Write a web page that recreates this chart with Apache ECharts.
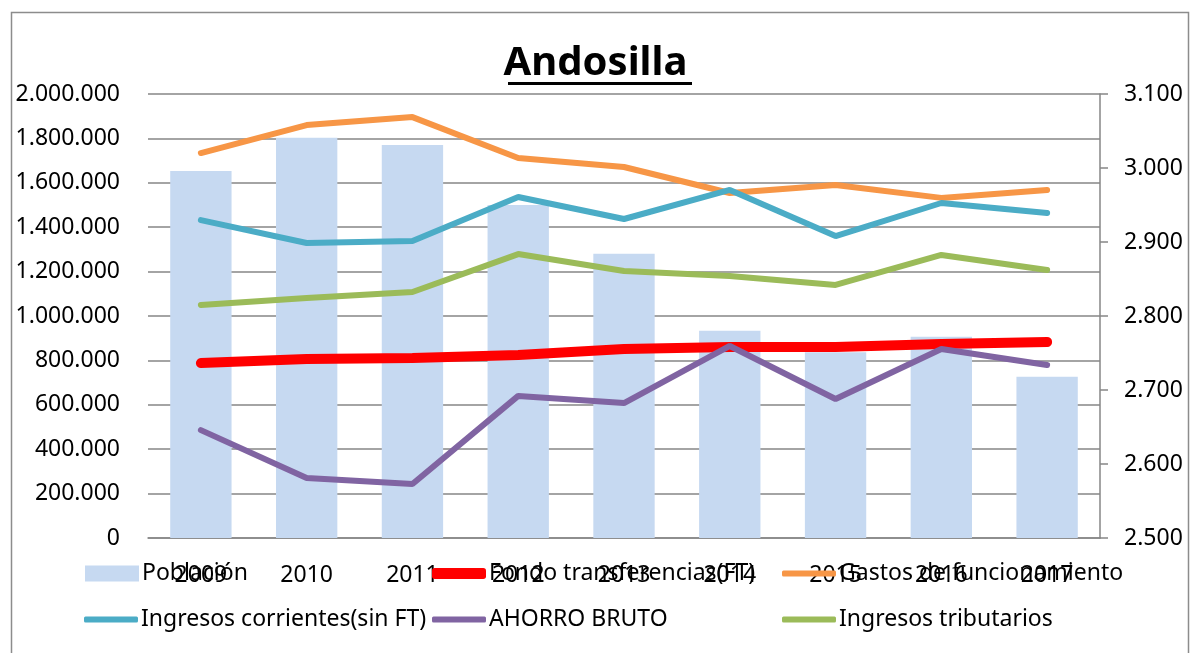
<!DOCTYPE html>
<html>
<head>
<meta charset="utf-8">
<style>
  html, body { margin: 0; padding: 0; background: #fff; }
  #chart { width: 1191px; height: 653px; }
</style>
<script src="https://cdn.jsdelivr.net/npm/echarts@6/dist/echarts.min.js"></script>
</head>
<body>
<div id="chart"></div>
<script>
const years = ['2009', '2010', '2011', '2012', '2013', '2014', '2015', '2016', '2017']
const poblacion = [2996, 3041, 3031, 2950, 2884, 2780, 2751, 2772, 2718]
const fondoTransferencias = [788000, 806000, 811000, 824000, 851000, 860000, 860000, 874000, 883000]
const gastosFuncionamiento = [1734000, 1860000, 1896000, 1712000, 1671000, 1554000, 1590000, 1532000, 1568000]
const ingresosCorrientes = [1432000, 1329000, 1338000, 1536000, 1437000, 1568000, 1360000, 1509000, 1464000]
const ahorroBruto = [486000, 270000, 243000, 640000, 608000, 865000, 626000, 851000, 779000]
const ingresosTributarios = [1050000, 1081000, 1108000, 1279000, 1203000, 1180000, 1140000, 1275000, 1207000]

const font = 'Noto Sans'
const grey = '#868686'

// miles con punto
function fmt(v) {
  return String(Math.round(v)).replace(/\B(?=(\d{3})+(?!\d))/g, '.')
}

function legendItem(name, left, top, iconH, round) {
  return {
    data: [name],
    left: left,
    top: top,
    icon: round ? 'roundRect' : 'rect',
    itemWidth: 54,
    itemHeight: iconH,
    itemGap: 0,
    padding: 0,
    selectedMode: false,
    textStyle: { fontFamily: font, fontSize: 23, color: '#000', padding: [0, 0, 0, -2] }
  }
}

const chart = echarts.init(document.getElementById('chart'))
const option = {
  animation: false,
  textStyle: { fontFamily: font },
  title: {
    text: 'Andosilla',
    left: 'center',
    top: 39,
    textStyle: { fontFamily: font, fontSize: 40, fontWeight: 'bold', color: '#000' }
  },
  graphic: [
    {
      type: 'rect',
      shape: { x: 11.5, y: 12.5, width: 1177, height: 700 },
      style: { fill: 'none', stroke: '#8c8c8c', lineWidth: 1.5 },
      silent: true
    },
    {
      type: 'rect',
      shape: { x: 508, y: 82, width: 184, height: 3 },
      style: { fill: '#000' },
      silent: true
    }
  ],
  legend: [
    legendItem('Población', 85, 562, 16, false),
    legendItem('Fondo transferencias(FT)', 432, 562, 11, true),
    legendItem('Gastos de funcionamiento', 782, 562, 6, true),
    legendItem('Ingresos corrientes(sin FT)', 84, 608, 6, true),
    legendItem('AHORRO BRUTO', 432, 608, 6, true),
    legendItem('Ingresos tributarios', 782, 608, 6, true)
  ],
  grid: { left: 148, right: 91, top: 94, bottom: 115 },
  xAxis: {
    type: 'category',
    data: years,
    axisLine: { lineStyle: { color: grey, width: 1.5 } },
    axisTick: { show: false },
    axisLabel: { fontFamily: font, fontSize: 23, color: '#000', margin: 26 }
  },
  yAxis: [
    {
      type: 'value',
      min: 0,
      max: 2000000,
      interval: 200000,
      axisLine: { show: false },
      axisTick: { show: false },
      splitLine: { lineStyle: { color: grey, width: 1.5 } },
      axisLabel: { fontFamily: font, fontSize: 23, color: '#000', margin: 28, formatter: fmt }
    },
    {
      type: 'value',
      min: 2500,
      max: 3100,
      interval: 100,
      startValue: 2500,
      position: 'right',
      axisLine: { show: true, lineStyle: { color: grey, width: 1.5 } },
      axisTick: { show: true, length: 8, lineStyle: { color: grey, width: 1.5 } },
      splitLine: { show: false },
      axisLabel: { fontFamily: font, fontSize: 23, color: '#000', margin: 24, formatter: fmt }
    }
  ],
  series: [
    {
      name: 'Población',
      type: 'bar',
      yAxisIndex: 1,
      data: poblacion,
      barWidth: '58%',
      itemStyle: { color: '#C6D9F1' }
    },
    {
      name: 'Fondo transferencias(FT)',
      type: 'line',
      data: fondoTransferencias,
      symbol: 'none',
      z: 6,
      lineStyle: { color: '#FF0000', width: 10, cap: 'round' },
      itemStyle: { color: '#FF0000' }
    },
    {
      name: 'Gastos de funcionamiento',
      type: 'line',
      data: gastosFuncionamiento,
      symbol: 'none',
      lineStyle: { color: '#F79646', width: 6, cap: 'round' },
      itemStyle: { color: '#F79646' }
    },
    {
      name: 'Ingresos corrientes(sin FT)',
      type: 'line',
      data: ingresosCorrientes,
      symbol: 'none',
      lineStyle: { color: '#4BACC6', width: 6, cap: 'round' },
      itemStyle: { color: '#4BACC6' }
    },
    {
      name: 'AHORRO BRUTO',
      type: 'line',
      data: ahorroBruto,
      symbol: 'none',
      z: 7,
      lineStyle: { color: '#8064A2', width: 6, cap: 'round' },
      itemStyle: { color: '#8064A2' }
    },
    {
      name: 'Ingresos tributarios',
      type: 'line',
      data: ingresosTributarios,
      symbol: 'none',
      lineStyle: { color: '#9BBB59', width: 6, cap: 'round' },
      itemStyle: { color: '#9BBB59' }
    }
  ]
}
chart.setOption(option)
</script>
</body>
</html>
